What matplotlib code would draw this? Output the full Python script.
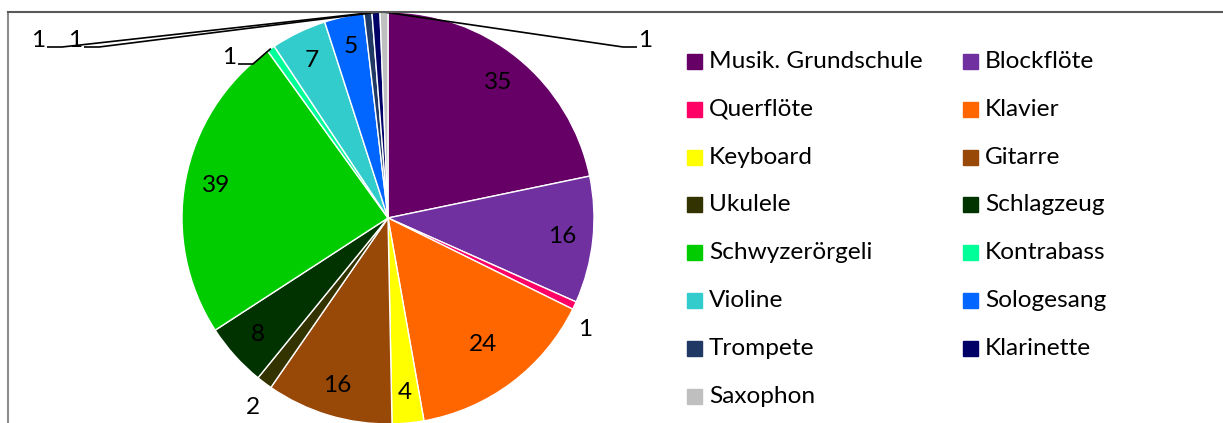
"""
Kreisdiagramm: Instrumente / Kurse
"""
import matplotlib
matplotlib.use("Agg")
import matplotlib.pyplot as plt
import numpy as np

W, H = 1223, 423

# daten
kurse = ["Musik. Grundschule", "Blockflöte", "Querflöte", "Klavier", "Keyboard",
         "Gitarre", "Ukulele", "Schlagzeug", "Schwyzerörgeli", "Kontrabass",
         "Violine", "Sologesang", "Trompete", "Klarinette", "Saxophon"]
anzahl = [35, 16, 1, 24, 4, 16, 2, 8, 39, 1, 7, 5, 1, 1, 1]
farben = ["#660066", "#7030A0", "#FF0066", "#FF6600", "#FFFF00",
          "#984807", "#333300", "#003300", "#00CC00", "#00FF99",
          "#33CCCC", "#0066FF", "#1F3864", "#000066", "#BFBFBF"]

# label-platzierung: None = innen, sonst (text x, y, leader ja/nein) in pixel (y nach unten)
label_pos = {2: (585, 330, False), 6: (253, 407, False),
             9: (229, 57, True), 12: (38, 40, True), 13: (75, 40, True),
             14: (645, 40, True)}

plt.rcParams['font.family'] = ['Lato', 'DejaVu Sans']
fs = 17.6

fig = plt.figure(figsize=(W / 100, H / 100), dpi=100)
ax = fig.add_axes([0, 0, 1, 1])

cx, cy, R = 388, 218, 206


def py(y):
    return H - y


wedges, _ = ax.pie(anzahl, colors=farben, startangle=90, counterclock=False,
                   center=(cx, py(cy)), radius=R, frame=True,
                   wedgeprops=dict(edgecolor="white", linewidth=1))
ax.set_xlim(0, W)
ax.set_ylim(0, H)
ax.set_aspect("equal")
ax.axis("off")

for i, w in enumerate(wedges):
    mid = np.radians((w.theta1 + w.theta2) / 2)
    if i not in label_pos:
        r = 0.77 if i == 3 else 0.85
        ax.text(cx + r * R * np.cos(mid), py(cy) + r * R * np.sin(mid), str(anzahl[i]),
                ha="center", va="center", fontsize=fs)
        continue
    tx, ty, leader = label_pos[i]
    ax.text(tx, py(ty), str(anzahl[i]), ha="center", va="center", fontsize=fs)
    if leader:
        ex, ey = cx + R * np.cos(mid), py(cy) + R * np.sin(mid)
        if tx < cx:
            xs = [tx + 9, tx + 24, ex]
            ys = [py(ty + 7), py(ty + 7), ey]
        else:
            xs = [ex, tx - 22, tx - 8]
            ys = [ey, py(ty + 7), py(ty + 7)]
        ax.plot(xs, ys, color="black", lw=1.2, solid_capstyle="butt")

# rahmen
ax.plot([8, 8], [0, py(12)], color="#8c8c8c", lw=1.5)
ax.plot([8, W], [py(12), py(12)], color="#595959", lw=1.5)

# legende, zeilenweise
for i, (k, f) in enumerate(zip(kurse, farben)):
    row, col = divmod(i, 2)
    x0 = 687 + col * 276
    yc = 61.5 + row * 47.8
    ax.add_patch(plt.Rectangle((x0, py(yc + 7.5)), 15, 15, color=f))
    ax.text(x0 + 22, py(yc), k, ha="left", va="center", fontsize=fs)

fig.savefig("out.png", dpi=100)
